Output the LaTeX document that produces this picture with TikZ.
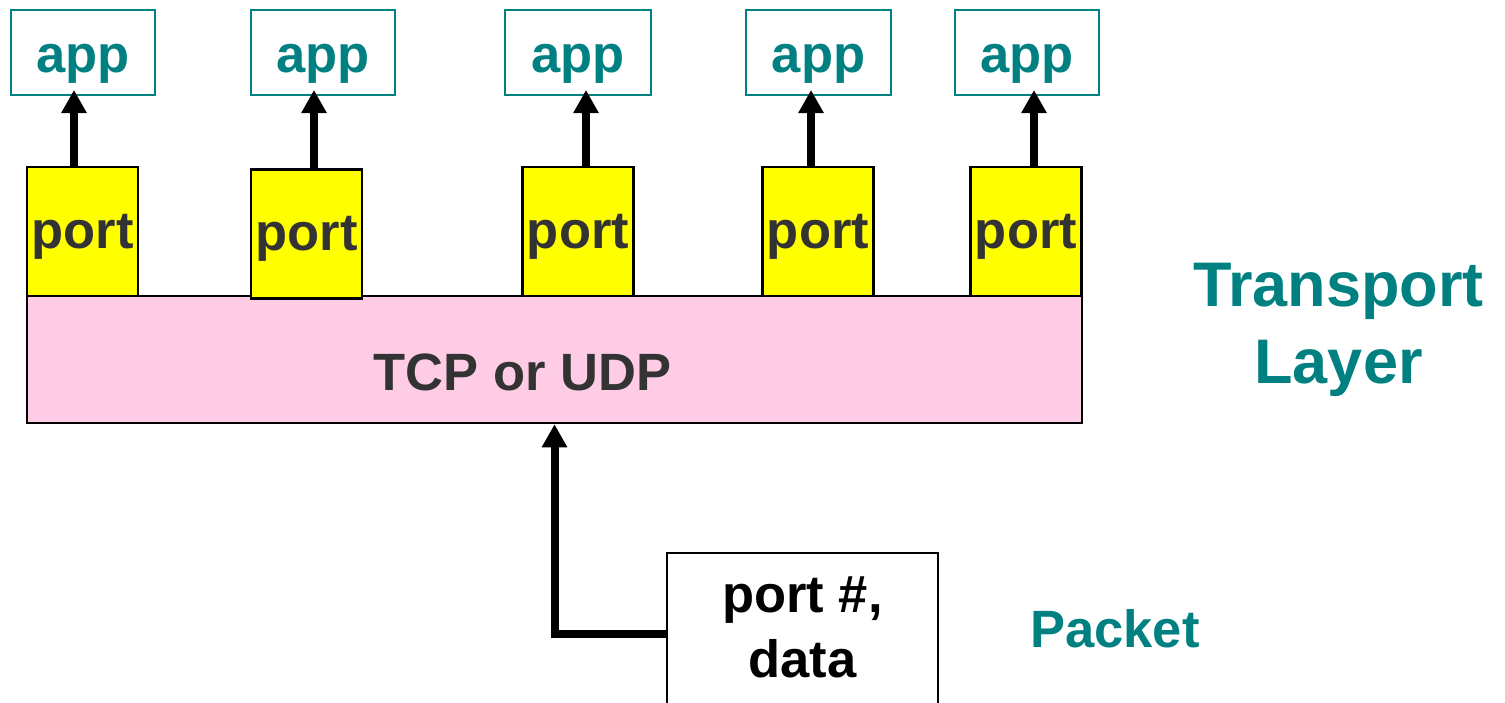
\documentclass[tikz,border=0pt]{standalone}
\usepackage{fontspec}
\setmainfont{Liberation Sans}
\usetikzlibrary{arrows.meta,calc}
\definecolor{layerteal}{HTML}{008080}
\definecolor{portyellow}{HTML}{FFFF00}
\definecolor{layerpink}{HTML}{FFCCE6}
\definecolor{labelgray}{HTML}{333333}
\newcommand{\bigbold}{\fontsize{52.5}{65}\selectfont\bfseries}
\begin{document}
\begin{tikzpicture}[x=1pt,y=-1pt,
  appbox/.style={draw=layerteal, line width=2pt, minimum width=144pt,
    minimum height=85pt, inner sep=0pt, text=layerteal, font=\bigbold,
    text height=50pt, text depth=11pt},
  portbox/.style={draw=black, fill=portyellow, line width=2.5pt,
    minimum width=111pt, minimum height=129pt, inner sep=0pt,
    text=labelgray, font=\bigbold, text height=44pt, text depth=11pt},
  layerbox/.style={draw=black, fill=layerpink, line width=2.5pt,
    minimum width=1055pt, minimum height=127pt, inner sep=0pt},
  pktbox/.style={draw=black, fill=white, line width=2pt,
    minimum width=271pt, minimum height=162pt, inner sep=0pt,
    align=center, font=\bigbold, text depth=14pt},
  uparrow/.style={line width=8pt, -{Triangle[width=24pt,length=23pt]}},
  tealtext/.style={text=layerteal, inner sep=0pt},
]
\useasboundingbox (0,0) rectangle (1505,702);

% transport layer body
\node[layerbox] (tcp) at (554.5,359.5) {};
\node[text=labelgray, font=\bigbold, inner sep=0pt, text height=38pt,
  text depth=0pt] (tcptext) at ($(tcp.center)+(-32,11.5)$) {TCP or UDP};

% applications, their ports and the delivery arrows
\foreach \i/\ax/\aw/\px/\py/\dx in {
    1/83/144/82.5/231.5/-8.5,
    2/323/144/306.5/234/7.5,
    3/578/146/578/231.5/8,
    4/818.5/145/818/231.5/-7,
    5/1027/144/1026/231.5/8}{
  \node[appbox, minimum width=\aw pt] (a\i) at (\ax,52.5) {app};
  \node[portbox] (p\i) at (\px,\py) {port};
  \draw[uparrow, shorten >=-6pt]
    ([xshift=\dx pt]p\i.north) -- ([xshift=\dx pt]p\i.north |- a\i.south);
}

% incoming packet
\node[pktbox] (pkt) at (802.5,634) {port \#,\\data};
\draw[uparrow] (pkt.west) -| (tcp.south);

% side captions
\node[tealtext, anchor=north, align=center,
  font=\fontsize{63}{77}\selectfont\bfseries] (tl) at (1338.5,263) {Transport\\Layer};
\node[tealtext, anchor=base, font=\bigbold] (pl) at (1115,647) {Packet};
\end{tikzpicture}
\end{document}
